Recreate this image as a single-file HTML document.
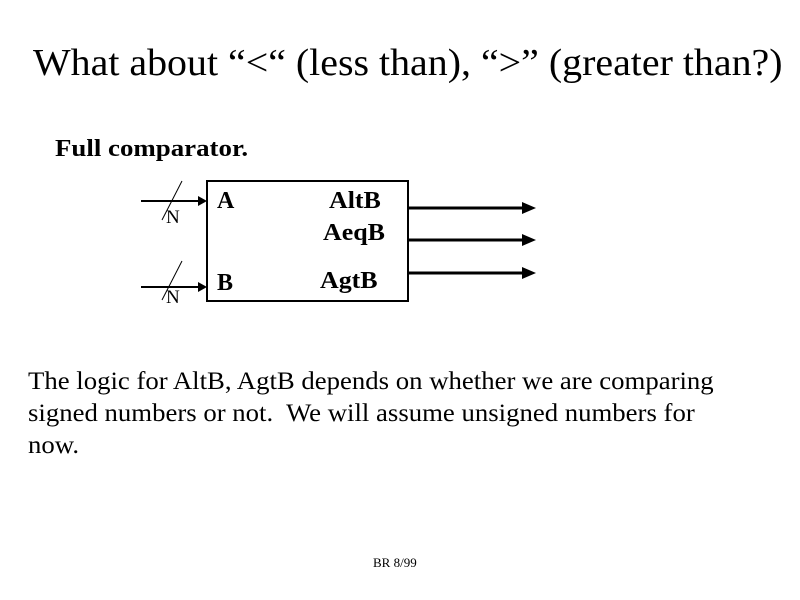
<!DOCTYPE html>
<html><head><style>
body{margin:0;width:800px;height:600px;background:#fff;position:relative;overflow:hidden;font-family:"Liberation Serif",serif;color:#000}
.t{position:absolute;white-space:nowrap;transform-origin:0 0}
</style></head><body>
<div class="t" style="left:33px;top:41px;font-size:38px;transform:scaleX(1.05)">What about “&lt;“ (less than), “&gt;” (greater than?)</div>
<div class="t" style="left:55px;top:136px;font-size:24px;font-weight:bold;transform:scaleX(1.12)">Full comparator.</div>
<svg style="position:absolute;left:0;top:0" width="800" height="600">
<rect x="207" y="181" width="201" height="120" fill="none" stroke="#000" stroke-width="2"/>
<line x1="141" y1="201" x2="200" y2="201" stroke="#000" stroke-width="2"/>
<polygon points="207,201 198,196 198,206"/>
<line x1="141" y1="287" x2="200" y2="287" stroke="#000" stroke-width="2"/>
<polygon points="207,287 198,282 198,292"/>
<line x1="162" y1="220" x2="182" y2="181" stroke="#000" stroke-width="1"/>
<line x1="162" y1="300" x2="182" y2="261" stroke="#000" stroke-width="1"/>
<g stroke="#000" stroke-width="3">
<line x1="408" y1="208" x2="524" y2="208"/>
<line x1="408" y1="240" x2="524" y2="240"/>
<line x1="408" y1="273" x2="524" y2="273"/>
</g>
<polygon points="536,208 522,202 522,214"/>
<polygon points="536,240 522,234 522,246"/>
<polygon points="536,273 522,267 522,279"/>
</svg>
<div class="t" style="left:166px;top:207px;font-size:19px">N</div>
<div class="t" style="left:166px;top:287px;font-size:19px">N</div>
<div class="t" style="left:217px;top:188px;font-size:24px;font-weight:bold">A</div>
<div class="t" style="left:217px;top:270px;font-size:24px;font-weight:bold">B</div>
<div class="t" style="left:329px;top:188px;font-size:24px;font-weight:bold;transform:scaleX(1.08)">AltB</div>
<div class="t" style="left:323px;top:220px;font-size:24px;font-weight:bold;transform:scaleX(1.08)">AeqB</div>
<div class="t" style="left:320px;top:268px;font-size:24px;font-weight:bold;transform:scaleX(1.08)">AgtB</div>
<div class="t" style="left:28px;top:366px;font-size:25px;line-height:32px;transform:scaleX(1.07)">The logic for AltB, AgtB depends on whether we are comparing<br>signed numbers or not.&nbsp; We will assume unsigned numbers for<br>now.</div>
<div class="t" style="left:373px;top:555px;font-size:13px">BR 8/99</div>
</body></html>
